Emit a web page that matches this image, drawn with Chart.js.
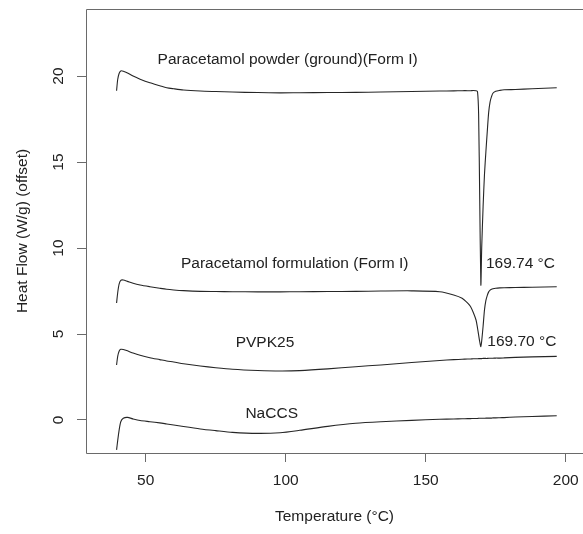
<!DOCTYPE html>
<html lang="en">
<head>
    <meta charset="UTF-8">
    <title>DSC curves</title>
    <script src="https://cdn.jsdelivr.net/npm/chart.js"></script>
    <style>
        body { margin: 0; padding: 0; background: #ffffff; }
        #wrap { width: 583px; height: 534px; }
    </style>
</head>
<body>
    <div id="wrap"><canvas id="dscChart"></canvas></div>

    <script>
        // temperature grid (°C), shared by the four curves
        const temps = [39.6, 40.0, 40.5, 41.1, 42, 43.5, 45.5, 48, 51.5, 55, 57.5, 60, 63.5, 69.5, 75, 81, 90, 98, 105, 115, 125, 134, 145, 155, 160, 163, 165, 166, 167, 168, 168.5, 168.9, 169.3, 169.7, 170.0, 170.5, 171, 171.5, 172, 172.5, 173, 173.5, 174, 175, 176.5, 178, 182, 188, 196.8];

        // heat flow (W/g), offset curves
        const powderGround = [19.15, 19.8, 20.15, 20.3, 20.28, 20.18, 20.0, 19.82, 19.61, 19.44, 19.32, 19.26, 19.19, 19.13, 19.1, 19.07, 19.04, 19.02, 19.03, 19.04, 19.05, 19.07, 19.1, 19.13, 19.14, 19.15, 19.15, 19.15, 19.16, 19.15, 19.1, 17.8, 12.8, 7.85, 10.0, 12.4, 14.3, 15.6, 16.8, 17.9, 18.5, 18.8, 19.0, 19.12, 19.17, 19.2, 19.22, 19.26, 19.32];
        const formulation = [6.8, 7.4, 7.9, 8.12, 8.14, 8.06, 7.95, 7.85, 7.75, 7.66, 7.6, 7.56, 7.52, 7.48, 7.47, 7.46, 7.45, 7.45, 7.46, 7.47, 7.48, 7.5, 7.51, 7.46, 7.27, 7.08, 6.8, 6.6, 6.25, 5.8, 5.35, 4.95, 4.55, 4.26, 4.6, 5.45, 6.4, 6.95, 7.25, 7.45, 7.55, 7.6, 7.63, 7.66, 7.68, 7.69, 7.7, 7.72, 7.75];
        const pvpk25 = [3.2, 3.7, 4.0, 4.11, 4.1, 4.02, 3.89, 3.76, 3.62, 3.51, 3.43, 3.37, 3.27, 3.14, 3.04, 2.95, 2.88, 2.85, 2.87, 2.97, 3.1, 3.2, 3.34, 3.46, 3.51, 3.53, 3.55, 3.55, 3.56, 3.56, 3.56, 3.57, 3.57, 3.57, 3.57, 3.58, 3.58, 3.58, 3.58, 3.59, 3.59, 3.59, 3.59, 3.6, 3.6, 3.61, 3.64, 3.67, 3.7];
        const naccs = [-1.74, -1.2, -0.6, -0.1, 0.1, 0.15, 0.06, -0.03, -0.1, -0.17, -0.23, -0.29, -0.38, -0.52, -0.62, -0.72, -0.78, -0.74, -0.6, -0.37, -0.19, -0.1, -0.02, 0.04, 0.06, 0.07, 0.08, 0.08, 0.09, 0.09, 0.09, 0.1, 0.1, 0.1, 0.1, 0.1, 0.1, 0.11, 0.11, 0.11, 0.11, 0.11, 0.12, 0.12, 0.13, 0.14, 0.17, 0.2, 0.25];

        // axis ticks
        const xTicks = [50, 100, 150, 200];
        const yTicks = [0, 5, 10, 15, 20];

        // text labels placed in data units
        const noteText = ['Paracetamol powder (ground)(Form I)', 'Paracetamol formulation (Form I)', 'PVPK25', 'NaCCS', '169.74 °C', '169.70 °C'];
        const noteX = [100.7, 103.2, 92.6, 95.0, 171.5, 172.0];
        const noteY = [20.93, 9.07, 4.5, 0.39, 9.07, 4.55];
        const noteAlign = ['center', 'center', 'center', 'center', 'left', 'left'];

        const FONT = "'Liberation Sans', Arial, sans-serif";
        const lineColor = '#262626';

        function toPoints(ys) {
            return temps.map((t, i) => ({ x: t, y: ys[i] }));
        }

        function curve(label, ys) {
            return {
                label: label,
                data: toPoints(ys),
                borderColor: lineColor,
                borderWidth: 1.1,
                pointRadius: 0,
                fill: false,
                tension: 0.25
            };
        }

        // frame (left, top, bottom; right side is off the page) + text notes
        const boxAndNotes = {
            id: 'boxAndNotes',
            afterDraw(chart) {
                const { ctx, chartArea, scales, width } = chart;
                const l = chartArea.left + 0.5, t = chartArea.top + 0.5, b = chartArea.bottom + 0.5;
                ctx.save();
                ctx.strokeStyle = '#6a6a6a';
                ctx.lineWidth = 1;
                ctx.beginPath();
                ctx.moveTo(width + 2, t);
                ctx.lineTo(l, t);
                ctx.lineTo(l, b);
                ctx.lineTo(width + 2, b);
                ctx.stroke();
                ctx.fillStyle = '#222';
                ctx.font = '15.5px ' + FONT;
                ctx.textBaseline = 'middle';
                noteText.forEach((txt, i) => {
                    ctx.textAlign = noteAlign[i];
                    ctx.fillText(txt, scales.x.getPixelForValue(noteX[i]), scales.y.getPixelForValue(noteY[i]));
                });
                ctx.restore();
            }
        };

        const ctx = document.getElementById('dscChart').getContext('2d');
        const dscChart = new Chart(ctx, {
            type: 'line',
            data: {
                datasets: [
                    curve('Paracetamol powder (ground)(Form I)', powderGround),
                    curve('Paracetamol formulation (Form I)', formulation),
                    curve('PVPK25', pvpk25),
                    curve('NaCCS', naccs)
                ]
            },
            options: {
                responsive: true,
                maintainAspectRatio: false,
                animation: false,
                layout: { padding: { top: 9, left: 0, right: 0, bottom: 0 } },
                plugins: {
                    legend: { display: false },
                    tooltip: { enabled: false }
                },
                scales: {
                    x: {
                        type: 'linear',
                        min: 28.68,
                        max: 206.18,
                        afterBuildTicks: (s) => { s.ticks = xTicks.map(v => ({ value: v })); },
                        afterFit: (s) => { s.height = 81; s.paddingLeft = 0; s.paddingRight = 0; },
                        grid: { drawOnChartArea: false, drawTicks: true, tickLength: 9, color: '#6a6a6a' },
                        border: { display: false },
                        ticks: { color: '#222', font: { family: FONT, size: 15.5 }, padding: 9, maxRotation: 0 },
                        title: {
                            display: true,
                            text: 'Temperature (°C)',
                            color: '#222',
                            font: { family: FONT, size: 15.5 },
                            padding: { top: 0, bottom: 7.5 }
                        }
                    },
                    y: {
                        type: 'linear',
                        min: -1.92,
                        max: 23.9,
                        afterBuildTicks: (s) => { s.ticks = yTicks.map(v => ({ value: v })); },
                        afterFit: (s) => { s.width = 86; s.paddingTop = 0; s.paddingBottom = 0; },
                        grid: { drawOnChartArea: false, drawTicks: true, tickLength: 9, color: '#6a6a6a' },
                        border: { display: false },
                        ticks: { color: '#222', font: { family: FONT, size: 15.5 }, padding: 10, minRotation: 90, maxRotation: 90, crossAlign: 'center' },
                        title: {
                            display: true,
                            text: 'Heat Flow (W/g) (offset)',
                            color: '#222',
                            font: { family: FONT, size: 15.5 },
                            padding: { top: 13, bottom: 0 }
                        }
                    }
                }
            },
            plugins: [boxAndNotes]
        });
    </script>
</body>
</html>
